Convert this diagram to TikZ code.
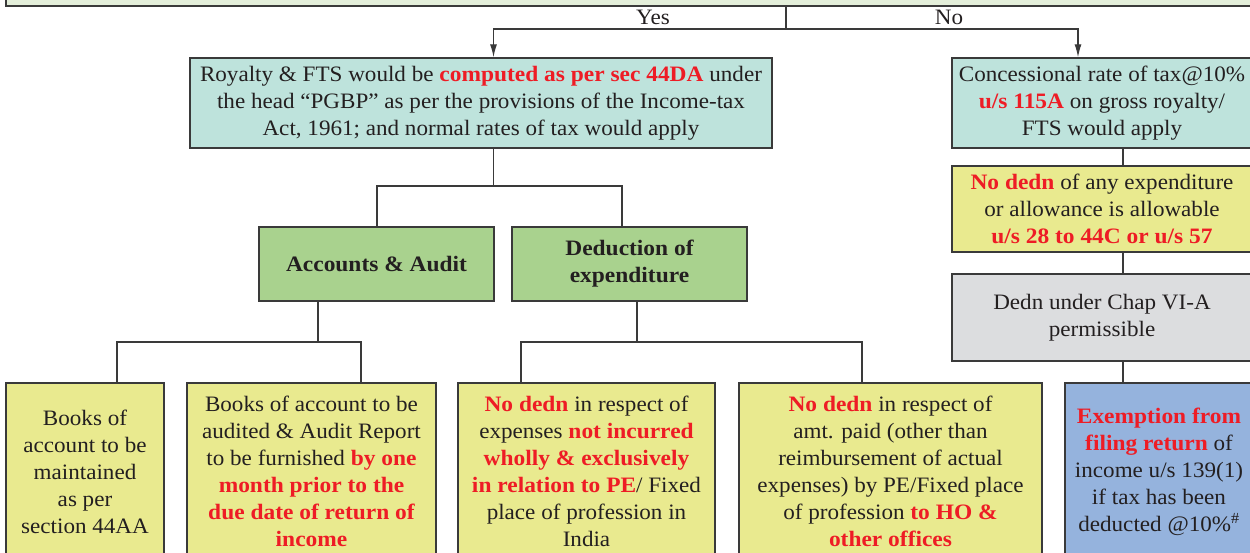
\documentclass[tikz,border=0pt]{standalone}
\usepackage{fontspec}
\setmainfont{Liberation Serif}[FakeStretch=1.05, BoldFeatures={FakeStretch=1.065}]
\usetikzlibrary{arrows.meta}
\definecolor{topfill}{HTML}{E4EFDA}
\definecolor{tealfill}{HTML}{BEE3DC}
\definecolor{yellowfill}{HTML}{E9EA8F}
\definecolor{greenfill}{HTML}{A9D28E}
\definecolor{grayfill}{HTML}{DCDDDF}
\definecolor{bluefill}{HTML}{95B3DD}
\definecolor{hl}{HTML}{EE1C25}
\definecolor{ink}{HTML}{231F20}
\definecolor{rule}{HTML}{3A3A3A}
\newcommand{\hi}[1]{\textbf{\textcolor{hl}{#1}}}
\tikzset{
  box/.style={draw=rule, line width=1.4pt, align=center, text=ink, inner sep=0pt,
    font=\fontsize{22}{27}\selectfont},
  tealbox/.style={box, fill=tealfill},
  yelbox/.style={box, fill=yellowfill},
  grnbox/.style={box, fill=greenfill, font=\fontsize{22}{27}\selectfont\bfseries},
  graybox/.style={box, fill=grayfill},
  bluebox/.style={box, fill=bluefill},
  link/.style={draw=rule, line width=1.2pt},
  arr/.style={link, -{Latex[length=13pt,width=7pt]}},
  lab/.style={text=ink, font=\fontsize{22}{27}\selectfont, anchor=base}
}
\begin{document}
\begin{tikzpicture}[x=1pt, y=-1pt]
\useasboundingbox (0,0) rectangle (1250,553);
\clip (0,0) rectangle (1250,553);

% question box above the split
\node[box, fill=topfill, minimum width=1294pt, minimum height=66pt] (top) at (653,-27) {};

% first level
\node[tealbox, minimum width=582pt, minimum height=90pt] (roy) at (481,103)
  {Royalty \& FTS would be \hi{computed as per sec 44DA} under\\
   the head ``PGBP'' as per the provisions of the Income-tax\\
   Act, 1961; and normal rates of tax would apply};
\node[tealbox, minimum width=300pt, minimum height=90pt] (conc) at (1102,103)
  {Concessional rate of tax@10\%\\
   \hi{u/s 115A} on gross royalty/\\
   FTS would apply};

% second level, left branch
\node[grnbox, minimum width=235pt, minimum height=74pt] (acc) at (376.5,264)
  {Accounts \& Audit};
\node[grnbox, minimum width=235pt, minimum height=74pt] (ded) at (629.5,264)
  {Deduction of\\expenditure};

% right column
\node[yelbox, minimum width=300pt, minimum height=86pt] (nod) at (1102,209)
  {\hi{No dedn} of any expenditure\\
   or allowance is allowable\\
   \hi{u/s 28 to 44C or u/s 57}};
\node[graybox, minimum width=300pt, minimum height=87pt] (chap) at (1102,317.5)
  {Dedn under Chap VI-A\\permissible};

% bottom row
\node[yelbox, minimum width=158pt, minimum height=177pt] (bk1) at (85,471.5)
  {Books of\\account to be\\maintained\\as per\\section 44AA};
\node[yelbox, minimum width=249pt, minimum height=177pt] (bk2) at (311.5,471.5)
  {Books of account to be\\audited \& Audit Report\\to be furnished \hi{by one}\\
   \hi{month prior to the}\\\hi{due date of return of}\\\hi{income}};
\node[yelbox, minimum width=257pt, minimum height=177pt] (pe1) at (586.5,471.5)
  {\hi{No dedn} in respect of\\expenses \hi{not incurred}\\\hi{wholly \& exclusively}\\
   \hi{in relation to PE}/ Fixed\\place of profession in\\India};
\node[yelbox, minimum width=303pt, minimum height=177pt] (pe2) at (890.5,471.5)
  {\hi{No dedn} in respect of\\amt. paid (other than\\reimbursement of actual\\
   expenses) by PE/Fixed place\\of profession \hi{to HO \&}\\\hi{other offices}};
\node[bluebox, minimum width=188pt, minimum height=177pt] (ex) at (1159,471.5)
  {\hi{Exemption from}\\\hi{filing return} of\\income u/s 139(1)\\if tax has been\\
   deducted @10\%\textsuperscript{\#}};

% split rows
\coordinate (ys) at (786,29);
\coordinate (r2) at (0,186);
\coordinate (r3) at (0,342);

% Yes / No split
\draw[link] (top.south -| ys) -- (ys);
\draw[arr] (ys) -| ([xshift=12.5pt]roy.north);
\draw[arr] (ys) -| ([xshift=-24pt]conc.north);
\node[lab] (yes) at (653,25) {Yes};
\node[lab] (no) at (949,25) {No};

% PGBP branch
\draw[link] ([xshift=12.5pt]roy.south) -- ([xshift=12.5pt]roy.south |- r2);
\draw[link] ([xshift=0.5pt]acc.north) |- ([xshift=-7.5pt]ded.north |- r2) -- ([xshift=-7.5pt]ded.north);

\draw[link] ([xshift=-58.5pt]acc.south) -- ([xshift=-58.5pt]acc.south |- r3);
\draw[link] ([xshift=32pt]bk1.north) |- ([xshift=49.5pt]bk2.north |- r3) -- ([xshift=49.5pt]bk2.north);

\draw[link] ([xshift=7.5pt]ded.south) -- ([xshift=7.5pt]ded.south |- r3);
\draw[link] ([xshift=-65.5pt]pe1.north) |- ([xshift=-28.5pt]pe2.north |- r3) -- ([xshift=-28.5pt]pe2.north);

% 115A column
\draw[link] ([xshift=21pt]conc.south) -- ([xshift=21pt]nod.north);
\draw[link] ([xshift=21pt]nod.south) -- ([xshift=21pt]chap.north);
\draw[link] ([xshift=21pt]chap.south) -- ([xshift=-36pt]ex.north);
\end{tikzpicture}
\end{document}
